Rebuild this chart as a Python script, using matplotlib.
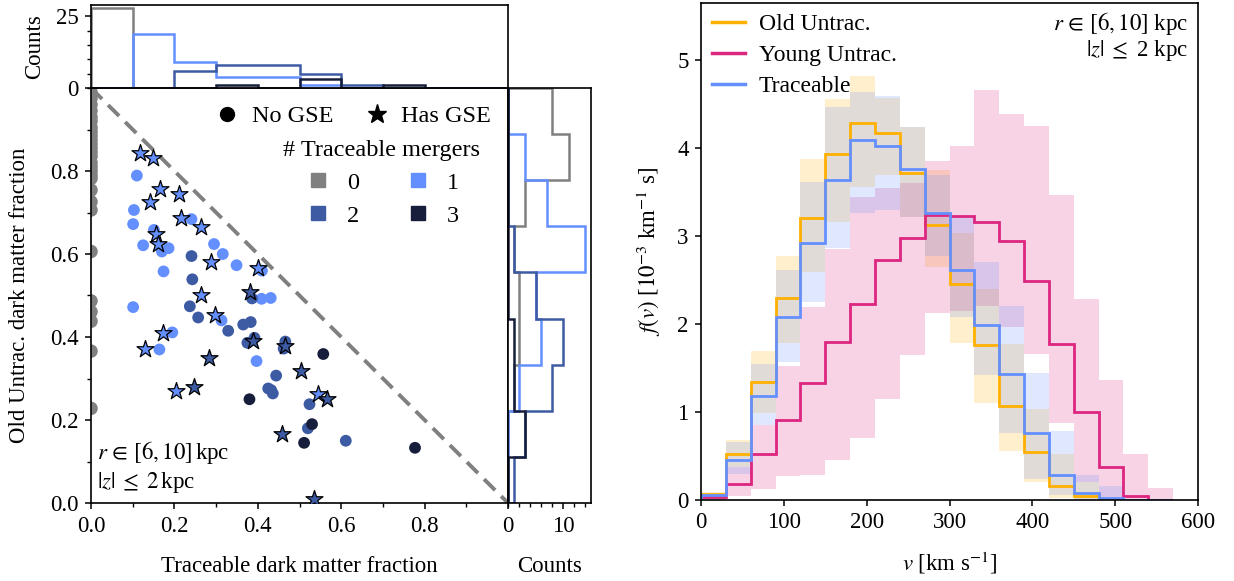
import numpy as np
import matplotlib
matplotlib.use("Agg")
import matplotlib.pyplot as plt
from matplotlib.lines import Line2D
from matplotlib.ticker import MultipleLocator, FixedLocator

plt.rcParams['font.family'] = ['Liberation Serif', 'DejaVu Serif']
plt.rcParams['mathtext.fontset'] = 'stix'
plt.rcParams['font.size'] = 16.5
plt.rcParams['axes.linewidth'] = 1.2
plt.rcParams['xtick.major.pad'] = 5
plt.rcParams['ytick.major.pad'] = 5

# ---------------- scatter data (left panel) ----------------
# 0 traceable mergers (no GSE), all at traceable fraction 0
y_m0 = [0.99, 0.975, 0.96, 0.945, 0.93, 0.92, 0.905, 0.895,
        0.885, 0.875, 0.865, 0.855, 0.845, 0.835, 0.82, 0.81, 0.80, 0.79, 0.782,
        0.754, 0.726, 0.706, 0.606, 0.487, 0.461, 0.438, 0.366, 0.228]
x_m0 = [0.0] * len(y_m0)

# 1 traceable merger
x_m1_gse = [0.118, 0.148, 0.166, 0.212, 0.142, 0.217, 0.264, 0.156, 0.161,
            0.288, 0.263, 0.297, 0.401, 0.173, 0.130, 0.204, 0.544]
y_m1_gse = [0.844, 0.831, 0.757, 0.745, 0.725, 0.687, 0.664, 0.647, 0.624,
            0.581, 0.502, 0.452, 0.567, 0.410, 0.371, 0.270, 0.262]
x_m1_no = [0.110, 0.103, 0.101, 0.151, 0.125, 0.170, 0.186, 0.174, 0.241, 0.295,
           0.316, 0.349, 0.410, 0.101, 0.313, 0.195, 0.164, 0.397, 0.409, 0.431]
y_m1_no = [0.789, 0.706, 0.672, 0.658, 0.621, 0.606, 0.614, 0.558, 0.684, 0.624,
           0.600, 0.573, 0.560, 0.472, 0.440, 0.411, 0.370, 0.342, 0.492, 0.494]

# 2 traceable mergers
x_m2_gse = [0.382, 0.283, 0.248, 0.388, 0.466, 0.503, 0.565, 0.459, 0.535]
y_m2_gse = [0.508, 0.349, 0.280, 0.390, 0.379, 0.319, 0.250, 0.166, 0.010]
x_m2_no = [0.241, 0.243, 0.237, 0.257, 0.329, 0.365, 0.383, 0.386, 0.375, 0.444,
           0.425, 0.436, 0.432, 0.524, 0.520, 0.611, 0.466, 0.392, 0.462]
y_m2_no = [0.595, 0.539, 0.474, 0.447, 0.415, 0.430, 0.436, 0.493, 0.386, 0.307,
           0.276, 0.264, 0.272, 0.238, 0.180, 0.150, 0.389, 0.398, 0.372]

# 3 traceable mergers
x_m3_no = [0.380, 0.511, 0.530, 0.557, 0.777]
y_m3_no = [0.250, 0.145, 0.190, 0.359, 0.133]

merger_labels = ['0', '1', '2', '3']
merger_colors = ['#808080', '#648FFF', '#3D5BA3', '#161E3C']

# ---------------- speed distributions (right panel) ----------------
v_edges = np.arange(0, 571, 30)
old_f = [0.07, 0.52, 1.34, 2.30, 3.21, 3.93, 4.29, 4.17, 3.72, 3.13,
         2.45, 1.76, 1.07, 0.54, 0.16, 0.04, 0.0, 0.0, 0.0]
old_lo = [0.0, 0.38, 0.985, 1.78, 2.59, 3.16, 3.56, 3.69, 3.22, 2.65,
          1.79, 1.10, 0.56, 0.20, 0.02, 0.0, 0.0, 0.0, 0.0]
old_hi = [0.09, 0.68, 1.69, 2.77, 3.88, 4.56, 4.82, 4.57, 4.24, 3.75,
          3.03, 2.40, 1.77, 1.03, 0.52, 0.20, 0.0, 0.0, 0.0]

young_f = [0.03, 0.18, 0.52, 0.91, 1.33, 1.80, 2.23, 2.73, 2.98, 3.24,
           3.23, 3.16, 2.94, 2.49, 1.77, 1.00, 0.37, 0.05, 0.0]
young_lo = [0.0, 0.04, 0.13, 0.27, 0.28, 0.46, 0.70, 1.15, 1.65, 2.13,
            2.15, 2.20, 1.97, 1.66, 0.88, 0.20, 0.03, 0.0, 0.0]
young_hi = [0.05, 0.38, 0.85, 1.52, 2.19, 2.85, 3.45, 3.55, 3.60, 3.85,
            4.02, 4.66, 4.39, 4.25, 3.47, 2.28, 1.36, 0.52, 0.14]

trace_f = [0.06, 0.46, 1.18, 2.08, 2.92, 3.64, 4.09, 4.03, 3.76, 3.26,
           2.61, 1.99, 1.43, 0.76, 0.28, 0.08, 0.02, 0.0, 0.0]
trace_lo = [0.0, 0.30, 0.85, 1.57, 2.25, 2.86, 3.26, 3.30, 3.22, 2.77,
            2.08, 1.42, 0.76, 0.24, 0.06, 0.0, 0.0, 0.0, 0.0]
trace_hi = [0.08, 0.66, 1.55, 2.61, 3.62, 4.47, 4.64, 4.59, 4.24, 3.70,
            3.22, 2.70, 2.20, 1.44, 0.78, 0.28, 0.16, 0.0, 0.0]

series_names = ['Old Untrac.', 'Young Untrac.', 'Traceable']
series_colors = ['#FFB000', '#DC267F', '#648FFF']

# ---------------- figure ----------------
W, H = 1234, 581
fig = plt.figure(figsize=(W / 100, H / 100), dpi=100)


def px_axes(left, top, right, bottom):
    return fig.add_axes([left / W, 1 - bottom / H, (right - left) / W, (bottom - top) / H])


ax = px_axes(91, 88, 508, 503)
axt = px_axes(91, 5, 508, 88)
axr = px_axes(508, 88, 591, 503)
axv = px_axes(701, 3, 1198, 500)

# main scatter
ax.plot([0, 1], [1, 0], ls='--', color='#808080', lw=2.8, dashes=(4, 2.2), zorder=1)
circ_sets = [(x_m0, y_m0), (x_m1_no, y_m1_no), (x_m2_no, y_m2_no), (x_m3_no, y_m3_no)]
circ_sizes = [95, 72, 72, 72]
for (xs, ys), c, sz in zip(circ_sets, merger_colors, circ_sizes):
    ax.scatter(xs, ys, s=sz, c=c, edgecolors='none', zorder=2)
star_sets = [(x_m1_gse, y_m1_gse, merger_colors[1]), (x_m2_gse, y_m2_gse, merger_colors[2])]
for xs, ys, c in star_sets:
    ax.scatter(xs, ys, s=165, marker='*', c=c, edgecolors='k', linewidths=0.9, zorder=3)

ax.set_xlim(0, 1)
ax.set_ylim(0, 1)
ax.xaxis.set_major_locator(FixedLocator([0, 0.2, 0.4, 0.6, 0.8]))
ax.yaxis.set_major_locator(FixedLocator([0, 0.2, 0.4, 0.6, 0.8]))
ax.xaxis.set_minor_locator(MultipleLocator(0.1))
ax.yaxis.set_minor_locator(MultipleLocator(0.1))
ax.tick_params(which='major', length=4, width=1.1)
ax.tick_params(which='minor', length=3, width=1.0)
ax.set_xlabel('Traceable dark matter fraction', labelpad=14)
ax.set_ylabel('Old Untrac. dark matter fraction', labelpad=14)

ax.text(0.015, 0.09, r'$r\,\in\,[6, 10]\,$kpc', transform=ax.transAxes, ha='left', va='bottom')
ax.text(0.015, 0.02, r'$|z|\;\leq\;2\,$kpc', transform=ax.transAxes, ha='left', va='bottom')

h_gse = [Line2D([], [], marker='o', ls='', color='k', markersize=10, label='No GSE'),
         Line2D([], [], marker='*', ls='', color='k', markersize=14, label='Has GSE')]
leg1 = ax.legend(handles=h_gse, loc='upper right', bbox_to_anchor=(1.0, 1.0), ncol=2,
                 frameon=False, handletextpad=0.4, columnspacing=1.2, borderaxespad=0.3,
                 handlelength=1.2, fontsize=17.5)
ax.add_artist(leg1)
order = [0, 2, 1, 3]
h_m = [Line2D([], [], marker='s', ls='', color=merger_colors[i], markersize=10,
              label=merger_labels[i]) for i in order]
leg2 = ax.legend(handles=h_m, loc='upper right', bbox_to_anchor=(0.985, 0.928), ncol=2,
                 frameon=False, title='# Traceable mergers', handletextpad=0.6,
                 columnspacing=1.8, handlelength=1.2, fontsize=17.5, title_fontsize=17.5,
                 labelspacing=0.45)

# top marginal histogram
xbins = np.linspace(0, 1, 11)
xs_all = [x_m0, x_m1_gse + x_m1_no, x_m2_gse + x_m2_no, x_m3_no]
for xs, c in zip(xs_all, merger_colors):
    axt.hist(xs, bins=xbins, histtype='step', color=c, lw=1.8)
axt.set_xlim(0, 1)
axt.set_ylim(0, 29)
axt.yaxis.set_major_locator(FixedLocator([0, 25]))
axt.yaxis.set_minor_locator(MultipleLocator(5))
axt.set_xticks([])
axt.tick_params(which='major', length=4, width=1.1)
axt.tick_params(which='minor', length=3, width=1.0)
axt.set_ylabel('Counts')
axt.yaxis.set_label_coords(-0.11, 0.5)

# right marginal histogram
ybins = np.linspace(0, 1, 10)
ys_all = [y_m0, y_m1_gse + y_m1_no, y_m2_gse + y_m2_no, y_m3_no]
for ys, c in zip(ys_all, merger_colors):
    axr.hist(ys, bins=ybins, histtype='step', color=c, lw=1.8, orientation='horizontal')
axr.set_ylim(0, 1)
axr.set_xlim(0, 15)
axr.xaxis.set_major_locator(FixedLocator([0, 10]))
axr.xaxis.set_minor_locator(MultipleLocator(2))
axr.set_yticks([])
axr.tick_params(which='major', length=4, width=1.1)
axr.tick_params(which='minor', length=3, width=1.0)
axr.set_xlabel('Counts', labelpad=14)

# right panel: speed distributions
bands = [(old_lo, old_hi), (young_lo, young_hi), (trace_lo, trace_hi)]
for (lo, hi), c in zip(bands, series_colors):
    axv.stairs(hi, v_edges, baseline=lo, fill=True, color=c, alpha=0.2, lw=0)
for f, c, name in zip([old_f, young_f, trace_f], series_colors, series_names):
    axv.stairs(f, v_edges, color=c, lw=2.0, label=name)
axv.set_xlim(0, 600)
axv.set_ylim(0, 5.65)
axv.xaxis.set_major_locator(MultipleLocator(100))
axv.yaxis.set_major_locator(MultipleLocator(1))
axv.tick_params(which='major', length=4, width=1.1)
axv.set_xlabel(r'$v$ [km s$^{-1}$]', labelpad=12)
axv.set_ylabel(r'$f(v)$ [$10^{-3}$ km$^{-1}$ s]', labelpad=10)
leg_lines = [Line2D([], [], color=c, lw=2.5) for c in series_colors]
axv.legend(leg_lines, series_names, loc='upper left', frameon=False, handlelength=1.4,
           handletextpad=0.6, borderaxespad=0.05, labelspacing=0.4, fontsize=17)
axv.text(0.98, 0.985, r'$r\,\in\,[6, 10]$ kpc', transform=axv.transAxes, ha='right', va='top')
axv.text(0.98, 0.93, r'$|z|\;\leq$ 2 kpc', transform=axv.transAxes, ha='right', va='top')

fig.savefig('out.png', dpi=100)
